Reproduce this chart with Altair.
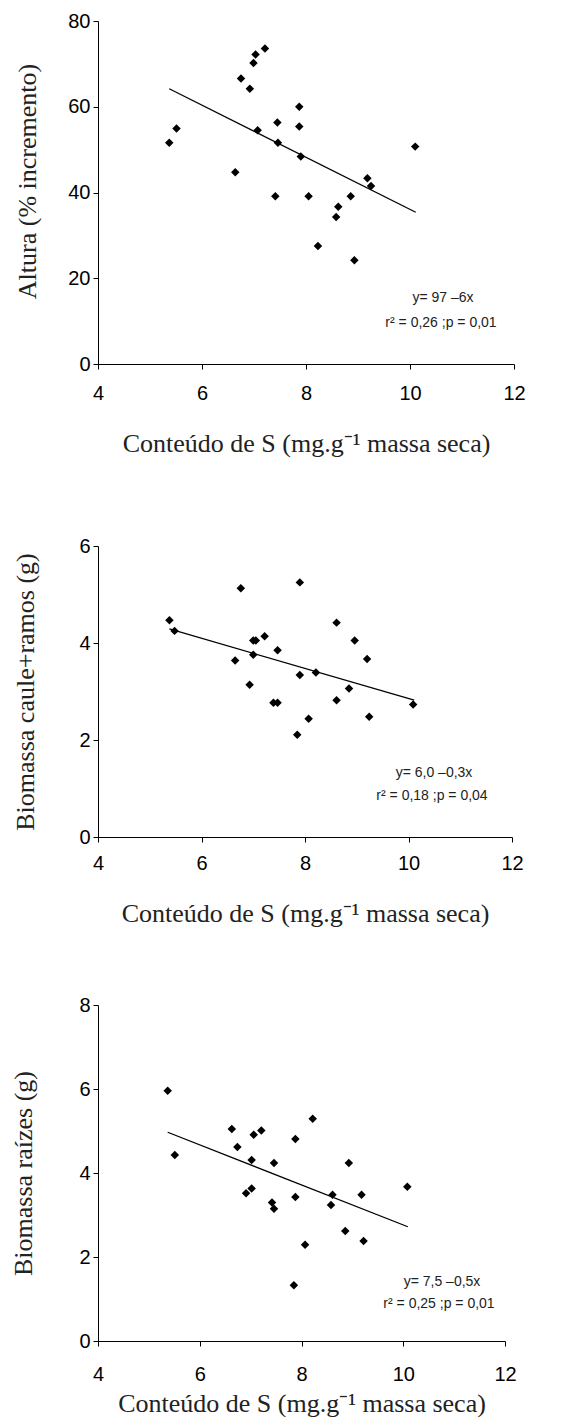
import altair as alt
import pandas as pd

# ---------------- data ----------------
x_title = "Conteúdo de S (mg.g⁻¹ massa seca)"

# Panel 1 – Altura (% incremento)
alt_x = [5.37, 5.51, 6.64, 6.75, 6.92, 6.99, 7.03, 7.07, 7.21, 7.45, 7.46, 7.41,
         7.87, 7.87, 7.90, 8.05, 8.23, 8.58, 8.62, 8.86, 8.93, 9.18, 9.25, 10.10]
alt_y = [51.6, 54.9, 44.7, 66.6, 64.2, 70.2, 72.2, 54.5, 73.6, 56.3, 51.6, 39.1,
         60.0, 55.4, 48.4, 39.1, 27.5, 34.3, 36.7, 39.1, 24.2, 43.3, 41.5, 50.7]
alt_fit_x = [5.37, 10.11]
alt_fit_y = [64.2, 35.4]

# Panel 2 – Biomassa caule+ramos (g)
cau_x = [5.38, 5.48, 6.65, 6.76, 6.93, 7.00, 7.05, 7.00, 7.22, 7.47, 7.39, 7.47,
         7.90, 7.90, 7.85, 8.07, 8.21, 8.61, 8.61, 8.85, 8.96, 9.20, 9.24, 10.09]
cau_y = [4.47, 4.25, 3.64, 5.13, 3.14, 4.05, 4.05, 3.76, 4.14, 3.85, 2.77, 2.77,
         5.25, 3.34, 2.11, 2.44, 3.39, 4.42, 2.82, 3.06, 4.05, 3.67, 2.48, 2.73]
cau_fit_x = [5.38, 10.11]
cau_fit_y = [4.29, 2.82]

# Panel 3 – Biomassa raízes (g)
rai_x = [5.37, 5.51, 6.63, 6.74, 6.91, 7.02, 7.02, 7.06, 7.21, 7.42, 7.46, 7.46,
         7.88, 7.88, 7.85, 8.07, 8.22, 8.58, 8.61, 8.86, 8.93, 9.18, 9.22, 10.08]
rai_y = [5.96, 4.43, 5.05, 4.62, 3.52, 4.31, 3.63, 4.91, 5.01, 3.30, 4.24, 3.15,
         4.81, 3.43, 1.33, 2.29, 5.29, 3.24, 3.48, 2.62, 4.24, 3.48, 2.38, 3.67]
rai_fit_x = [5.37, 10.09]
rai_fit_y = [4.97, 2.72]

x_ticks = [4, 6, 8, 10, 12]
alt_ticks = [0, 20, 40, 60, 80]
cau_ticks = [0, 2, 4, 6]
rai_ticks = [0, 2, 4, 6, 8]

alt_eq = ["y= 97 –6x", "r² = 0,26 ;p = 0,01"]
cau_eq = ["y= 6,0 –0,3x", "r² = 0,18 ;p =  0,04"]
rai_eq = ["y= 7,5 –0,5x", "r² = 0,25 ;p = 0,01"]


def panel(xs, ys, fx, fy, ytitle, yticks, eq, width, height,
          y_extent, x_lab_pad, x_title_pad, ann, title_y=None):
    pts = pd.DataFrame({"x": xs, "y": ys})
    fit = pd.DataFrame({"x": fx, "y": fy})
    xscale = alt.Scale(domain=[x_ticks[0], x_ticks[-1]], nice=False, zero=False)
    yscale = alt.Scale(domain=[yticks[0], yticks[-1]], nice=False)
    xaxis = alt.Axis(values=x_ticks, grid=False, labelPadding=x_lab_pad,
                     titlePadding=x_title_pad, labelFlush=False)
    yargs = dict(values=yticks, grid=False, labelPadding=3,
                 minExtent=y_extent, maxExtent=y_extent, titlePadding=27)
    if title_y is not None:
        yargs["titleY"] = title_y
    yaxis = alt.Axis(**yargs)
    X = alt.X("x:Q", scale=xscale, axis=xaxis, title=x_title)
    Y = alt.Y("y:Q", scale=yscale, axis=yaxis, title=ytitle)

    points = alt.Chart(pts).mark_point(
        shape="diamond", filled=True, color="black", size=72, opacity=1
    ).encode(x=X, y=Y)
    line = alt.Chart(fit).mark_line(color="black", strokeWidth=1.3).encode(x=X, y=Y)

    layers = [points, line]
    for txt, (px, py) in zip(eq, ann):
        layers.append(
            alt.Chart(pd.DataFrame({"t": [txt]})).mark_text(
                font="Liberation Sans", fontSize=14, color="#222222",
                align="center", baseline="middle"
            ).encode(x=alt.value(px), y=alt.value(py), text="t:N")
        )
    return alt.layer(*layers).properties(width=width, height=height)


p1 = panel(alt_x, alt_y, alt_fit_x, alt_fit_y, "Altura (% incremento)", alt_ticks,
           alt_eq, 416, 343, 31, 14, 27, [(345, 277), (343, 302)], title_y=160)
p2 = panel(cau_x, cau_y, cau_fit_x, cau_fit_y, "Biomassa caule+ramos (g)", cau_ticks,
           cau_eq, 414, 291, 33, 11, 27, [(336, 227), (334, 250)])
p3 = panel(rai_x, rai_y, rai_fit_x, rai_fit_y, "Biomassa raízes (g)", rai_ticks,
           rai_eq, 407, 336, 35, 18, 6, [(344, 277), (341, 299)])

top = alt.vconcat(p1, p2, spacing=80)
chart = alt.vconcat(top, p3, spacing=69).properties(
    padding={"left": 2, "top": 3, "right": 5, "bottom": 5}
).configure_view(stroke=None).configure_axis(
    domainColor="black", tickColor="black", domainWidth=1, tickWidth=1, tickSize=5,
    labelColor="black", labelFont="Liberation Sans", labelFontSize=20,
    titleColor="#222222", titleFont="Liberation Serif", titleFontSize=26,
    titleFontWeight="normal"
)

chart.save("out.html", embed_options={"renderer": "svg", "actions": False})
